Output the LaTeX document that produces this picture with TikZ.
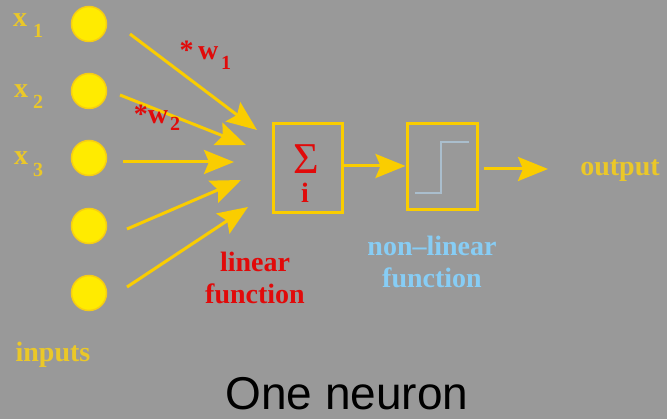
\documentclass[tikz,border=0pt]{standalone}
\usepackage{fontspec}
\setmainfont{Liberation Serif}
\newfontfamily\arialfont{Liberation Sans}
\usetikzlibrary{arrows.meta}
\definecolor{bg}{RGB}{153,153,153}
\definecolor{cfill}{RGB}{255,235,0}
\definecolor{cdraw}{RGB}{245,205,20}
\definecolor{arr}{RGB}{250,205,0}
\definecolor{lab}{RGB}{235,200,40}
\definecolor{redt}{RGB}{225,10,10}
\definecolor{bluet}{RGB}{135,205,245}
\definecolor{stepc}{RGB}{170,190,205}
\tikzset{
  inp/.style={circle,fill=cfill,draw=cdraw,line width=1.5pt,minimum size=35pt,inner sep=0pt},
  conn/.style={draw=arr,line width=3pt,-{Stealth[length=30pt,width=24pt,inset=5pt]}},
  blockbox/.style={draw=arr,line width=3pt,rectangle,inner sep=0pt},
  ylab/.style={text=lab,font=\bfseries\fontsize{28}{30}\selectfont,inner sep=0pt},
  rlab/.style={text=redt,font=\bfseries\fontsize{28}{32}\selectfont,inner sep=0pt,align=center},
  blab/.style={text=bluet,font=\bfseries\fontsize{28}{32}\selectfont,inner sep=0pt,align=center},
}
\begin{document}
\begin{tikzpicture}[x=1pt,y=-1pt]
\fill[bg] (0,0) rectangle (667,419);
\useasboundingbox (0,0) rectangle (667,419);
% inputs
\node[inp] (i1) at (89,24) {};
\node[inp] (i2) at (89,91) {};
\node[inp] (i3) at (89,158) {};
\node[inp] (i4) at (89,226) {};
\node[inp] (i5) at (89,293) {};
% input labels
\node[ylab,anchor=base] (x1) at (20,27) {x};
\node[ylab,anchor=base,font=\bfseries\fontsize{20}{22}\selectfont] (x1s) at (38,38) {1};
\node[ylab,anchor=base] (x2) at (21,98) {x};
\node[ylab,anchor=base,font=\bfseries\fontsize{20}{22}\selectfont] (x2s) at (38,109) {2};
\node[ylab,anchor=base] (x3) at (21,165) {x};
\node[ylab,anchor=base,font=\bfseries\fontsize{20}{22}\selectfont] (x3s) at (38,177) {3};
\node[ylab,anchor=base] (inputs) at (53,362) {inputs};
% sum and step boxes
\node[blockbox,minimum width=69pt,minimum height=89pt] (sum) at (307.5,168.5) {};
\node[text=redt,font=\fontsize{44}{44}\selectfont,inner sep=0pt,anchor=base] (sig) at (306,174) {Σ};
\node[text=redt,font=\bfseries\fontsize{28}{30}\selectfont,inner sep=0pt,anchor=base] (idx) at (305,203) {i};
\node[blockbox,minimum width=70pt,minimum height=86pt] (act) at (442,167) {};
\coordinate (st1) at (415,193);
\coordinate (st2) at (441,193);
\coordinate (st3) at (441,142);
\coordinate (st4) at (469,142);
\draw[stepc,line width=2pt] (st1) -- (st2) -- (st3) -- (st4);
% arrow endpoints
\coordinate (a1s) at (130,34);  \coordinate (a1e) at (257,130);
\coordinate (a2s) at (120,95);  \coordinate (a2e) at (246,145);
\coordinate (a3s) at (123,162); \coordinate (a3e) at (234,162);
\coordinate (a4s) at (127,229); \coordinate (a4e) at (241,180);
\coordinate (a5s) at (127,287); \coordinate (a5e) at (248,207);
\draw[conn] (a1s) -- (a1e);
\draw[conn] (a2s) -- (a2e);
\draw[conn] (a3s) -- (a3e);
\draw[conn] (a4s) -- (a4e);
\draw[conn] (a5s) -- (a5e);
\coordinate (oe) at (548,169);
\draw[conn] (sum.east |- 0,166) -- (act.west |- 0,166);
\draw[conn] ([xshift=5pt]act.east |- 0,169) -- (oe);
% weights
\node[text=redt,font=\bfseries\fontsize{28}{30}\selectfont,inner sep=0pt,anchor=base] (w1) at (199,60) {*\,w};
\node[text=redt,font=\bfseries\fontsize{20}{22}\selectfont,inner sep=0pt,anchor=base] (w1s) at (226,70) {1};
\node[text=redt,font=\bfseries\fontsize{28}{30}\selectfont,inner sep=0pt,anchor=base] (w2) at (151,124) {*w};
\node[text=redt,font=\bfseries\fontsize{20}{22}\selectfont,inner sep=0pt,anchor=base] (w2s) at (175,131) {2};
% labels
\node[rlab] (lin) at (255,278) {linear\\function};
\node[blab] (nlin) at (432,262) {non--linear\\function};
\node[ylab,anchor=base] (out) at (620,176) {output};
\node[text=black,font=\arialfont\fontsize{46}{46}\selectfont,inner sep=0pt,anchor=base] (title) at (347,410) {One neuron};
\end{tikzpicture}
\end{document}
